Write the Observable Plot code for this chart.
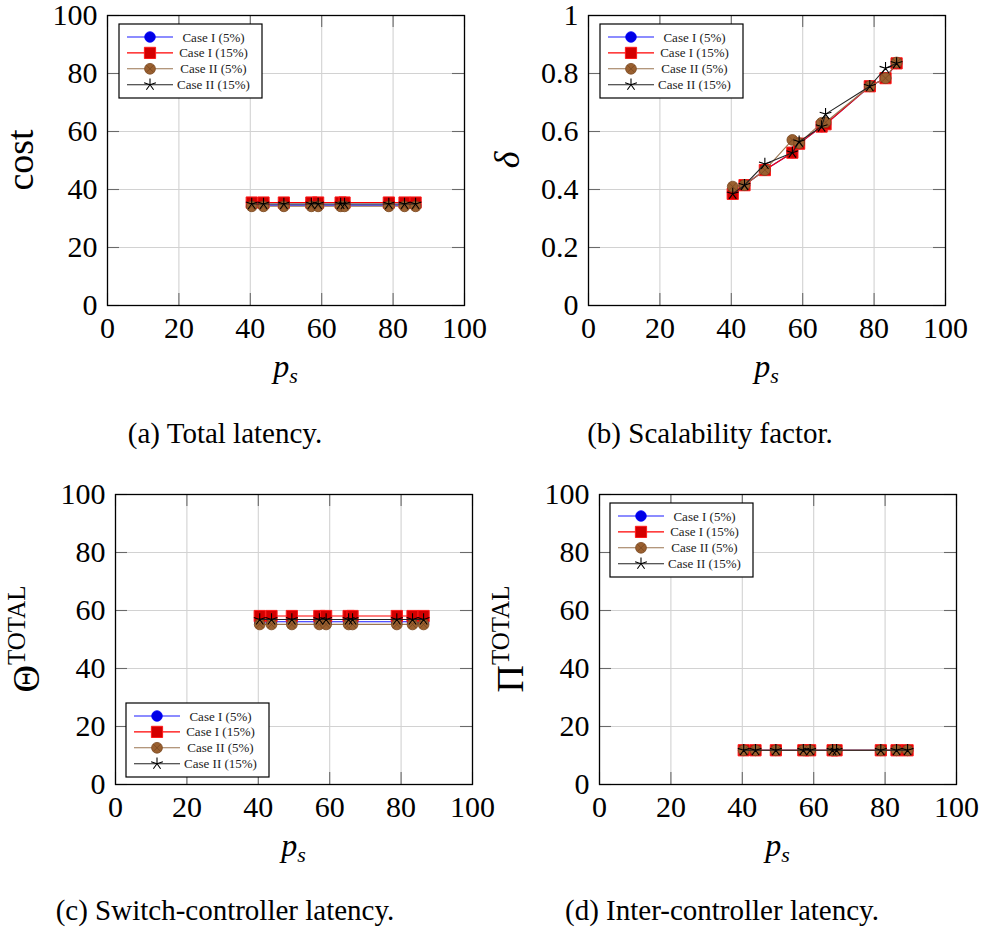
<!DOCTYPE html>
<html><head><meta charset="utf-8">
<script src="https://cdn.jsdelivr.net/npm/d3@7"></script>
<script src="https://cdn.jsdelivr.net/npm/@observablehq/plot@0.6"></script>
<style>
body{margin:0;background:#fff;}
#root{position:relative;width:982px;height:927px;overflow:hidden;background:#fff}
.panel{position:absolute}
.cap{position:absolute;font-family:'Liberation Serif',serif;font-size:29px;line-height:29px;white-space:nowrap;transform:translateX(-50%);color:#000;}
</style></head><body><div id="root"></div>
<script>
// ---------- data ----------
const ps = [40.4, 43.7, 49.4, 57.1, 59.0, 65.3, 66.4, 78.8, 83.2, 86.3];
const seriesNames = ["Case I (5%)", "Case I (15%)", "Case II (5%)", "Case II (15%)"];
const xTicks = [0, 20, 40, 60, 80, 100];
const yTicks100 = [0, 20, 40, 60, 80, 100];
const yTicksDelta = [0, 0.2, 0.4, 0.6, 0.8, 1];

// (a) total latency (cost)
const costCaseI5 = [34.6, 34.6, 34.6, 34.6, 34.6, 34.6, 34.6, 34.6, 34.6, 34.6];
const costCaseI15 = [35.5, 35.5, 35.5, 35.5, 35.5, 35.5, 35.5, 35.5, 35.5, 35.5];
const costCaseII5 = [34.2, 34.2, 34.2, 34.2, 34.2, 34.2, 34.2, 34.2, 34.2, 34.2];
const costCaseII15 = [35.0, 35.0, 35.0, 35.0, 35.0, 35.0, 35.0, 35.0, 35.0, 35.0];
// (b) scalability factor (delta)
const deltaCaseI5 = [0.385, 0.415, 0.467, 0.527, 0.558, 0.617, 0.625, 0.756, 0.784, 0.835];
const deltaCaseI15 = [0.385, 0.415, 0.467, 0.527, 0.558, 0.617, 0.625, 0.756, 0.784, 0.835];
const deltaCaseII5 = [0.41, 0.415, 0.467, 0.571, 0.56, 0.63, 0.632, 0.756, 0.784, 0.838];
const deltaCaseII15 = [0.385, 0.415, 0.488, 0.527, 0.565, 0.617, 0.66, 0.756, 0.818, 0.835];
// (c) switch-controller latency
const thetaCaseI5 = [56.1, 56.1, 56.1, 56.1, 56.1, 56.1, 56.1, 56.1, 56.1, 56.1];
const thetaCaseI15 = [58.1, 58.1, 58.1, 58.1, 58.1, 58.1, 58.1, 58.1, 58.1, 58.1];
const thetaCaseII5 = [55.2, 55.2, 55.2, 55.2, 55.2, 55.2, 55.2, 55.2, 55.2, 55.2];
const thetaCaseII15 = [56.9, 56.9, 56.9, 56.9, 56.9, 56.9, 56.9, 56.9, 56.9, 56.9];
// (d) inter-controller latency
const piCaseI5 = [11.8, 11.8, 11.8, 11.8, 11.8, 11.8, 11.8, 11.8, 11.8, 11.8];
const piCaseI15 = [11.8, 11.8, 11.8, 11.8, 11.8, 11.8, 11.8, 11.8, 11.8, 11.8];
const piCaseII5 = [11.8, 11.8, 11.8, 11.8, 11.8, 11.8, 11.8, 11.8, 11.8, 11.8];
const piCaseII15 = [11.8, 11.8, 11.8, 11.8, 11.8, 11.8, 11.8, 11.8, 11.8, 11.8];

const captions = ["(a) Total latency.", "(b) Scalability factor.", "(c) Switch-controller latency.", "(d) Inter-controller latency."];

// ---------- symbols ----------
const R = s => Math.sqrt(s / Math.PI);
const symCircle = {draw(c, s){const r = R(s); c.moveTo(r, 0); c.arc(0, 0, r, 0, 2 * Math.PI);}};
const symSquare = {draw(c, s){const r = R(s); c.rect(-r, -r, 2 * r, 2 * r);}};
const symOtimes = {draw(c, s){const r = R(s); c.moveTo(r, 0); c.arc(0, 0, r, 0, 2 * Math.PI);
  const k = r * Math.SQRT1_2; c.moveTo(-k, -k); c.lineTo(k, k); c.moveTo(-k, k); c.lineTo(k, -k);}};
const symStar = {draw(c, s){const r = R(s); for (let i = 0; i < 5; i++){const a = -Math.PI / 2 + i * 2 * Math.PI / 5; c.moveTo(0, 0); c.lineTo(r * Math.cos(a), r * Math.sin(a));}}};

const styles = [
  {line: "#1a1aff", sym: symCircle, r: 5.3, fill: "#0000e6", stroke: "#0000ff", sw: 0.8},
  {line: "#ff0000", sym: symSquare, r: 5.6, fill: "#d40000", stroke: "#ff1a1a", sw: 1},
  {line: "#9a7550", sym: symOtimes, r: 5.4, fill: "#9a6030", stroke: "#7a4820", sw: 0.8},
  {line: "#222222", sym: symStar, r: 6.2, fill: "none", stroke: "#000000", sw: 1.1}
];

const FONT = "Liberation Serif";
const root = document.getElementById("root");
const SVGNS = "http://www.w3.org/2000/svg";
function el(name, attrs, parent){const e = document.createElementNS(SVGNS, name); for (const k in attrs) e.setAttribute(k, attrs[k]); if (parent) parent.appendChild(e); return e;}

function panel({left, top, yDomain, yTicks, series, legend, yLabel, yLabelX}) {
  const mL = 107, mT = 35, fw = 357, fh = 290, mR = 25, mB = 100;
  const W = mL + fw + mR, H = mT + fh + mB;
  const marks = [
    Plot.gridX(xTicks, {stroke: "#d2d2d2", strokeOpacity: 1, strokeWidth: 1.1}),
    Plot.gridY(yTicks, {stroke: "#d2d2d2", strokeOpacity: 1, strokeWidth: 1.1}),
    Plot.tickX(xTicks, {x: d => d, stroke: "#6a6a6a", strokeWidth: 1.1, insetTop: fh - 12}),
    Plot.tickX(xTicks, {x: d => d, stroke: "#6a6a6a", strokeWidth: 1.1, insetBottom: fh - 12}),
    Plot.tickY(yTicks, {y: d => d, stroke: "#6a6a6a", strokeWidth: 1.1, insetRight: fw - 12}),
    Plot.tickY(yTicks, {y: d => d, stroke: "#6a6a6a", strokeWidth: 1.1, insetLeft: fw - 12})
  ];
  series.forEach((vals, i) => {
    const st = styles[i];
    const data = ps.map((x, j) => ({x, y: vals[j]}));
    marks.push(Plot.line(data, {x: "x", y: "y", stroke: st.line, strokeWidth: 1.1}));
    marks.push(Plot.dot(data, {x: "x", y: "y", symbol: st.sym, r: st.r, fill: st.fill, stroke: st.stroke, strokeWidth: st.sw}));
  });
  marks.push(Plot.frame({stroke: "#000", strokeWidth: 1.3}));
  marks.push(Plot.axisX(xTicks, {tickSize: 0, tickPadding: 11, label: null, fontSize: 30}));
  marks.push(Plot.axisY(yTicks, {tickSize: 0, tickPadding: 10, label: null, fontSize: 30, tickFormat: d => String(d)}));
  const svg = Plot.plot({
    width: W, height: H, marginLeft: mL, marginTop: mT, marginRight: mR, marginBottom: mB,
    x: {domain: [0, 100]}, y: {domain: yDomain},
    style: {fontFamily: FONT, fontSize: "30px", color: "#000", background: "transparent", overflow: "visible"},
    marks
  });
  svg.classList.add("panel");
  svg.style.left = left + "px"; svg.style.top = (top - 20) + "px";
  // y label
  const yl = el("text", {transform: `translate(${yLabelX},${mT + fh / 2}) rotate(-90)`, "text-anchor": "middle", "font-family": FONT, fill: "#000"}, svg);
  yLabel(yl);
  // x label p_s
  const xl = el("text", {x: mL + fw / 2, y: mT + fh + 72, "text-anchor": "middle", "font-family": FONT, fill: "#000", "font-size": 32}, svg);
  const t1 = el("tspan", {"font-style": "italic"}, xl); t1.textContent = "p";
  const t2 = el("tspan", {"font-style": "italic", "font-size": 22, dy: 6}, xl); t2.textContent = "s";
  // legend
  const g = el("g", {transform: `translate(${mL + legend.dx},${legend.dy + 20})`}, svg);
  el("rect", {x: 0, y: 0, width: 143, height: 74, fill: "#fff", stroke: "#000", "stroke-width": 1.2}, g);
  seriesNames.forEach((name, i) => {
    const st = styles[i];
    const yy = 13 + 15.9 * i;
    el("line", {x1: 8, x2: 54, y1: yy, y2: yy, stroke: st.line, "stroke-width": 1.1}, g);
    const p = d3.path(); st.sym.draw(p, st.r * st.r * Math.PI);
    el("path", {d: p.toString(), transform: `translate(31,${yy})`, fill: st.fill, stroke: st.stroke, "stroke-width": st.sw}, g);
    const tx = el("text", {x: 94.5, y: yy + 4.5, "text-anchor": "middle", "font-size": 13, "font-family": FONT, fill: "#222"}, g);
    tx.textContent = name;
  });
  root.appendChild(svg);
}

function simpleLabel(txt, italic, size){return t => {t.setAttribute("font-size", size); if (italic) t.setAttribute("font-style", "italic"); t.textContent = txt;};}
function supLabel(base){return t => {
  const a = el("tspan", {"font-size": 38}, t); a.textContent = base;
  const b = el("tspan", {"font-size": 25, dy: -14}, t); b.textContent = "TOTAL";
};}

panel({left: 0, top: 0, yDomain: [0, 100], yTicks: yTicks100,
  series: [costCaseI5, costCaseI15, costCaseII5, costCaseII15],
  legend: {dx: 12, dy: 24}, yLabel: simpleLabel("cost", false, 38), yLabelX: 33});
panel({left: 481, top: 0, yDomain: [0, 1], yTicks: yTicksDelta,
  series: [deltaCaseI5, deltaCaseI15, deltaCaseII5, deltaCaseII15],
  legend: {dx: 12, dy: 24}, yLabel: simpleLabel("δ", true, 36), yLabelX: 38});
panel({left: 8, top: 479, yDomain: [0, 100], yTicks: yTicks100,
  series: [thetaCaseI5, thetaCaseI15, thetaCaseII5, thetaCaseII15],
  legend: {dx: 11, dy: 224}, yLabel: supLabel("Θ"), yLabelX: 31});
panel({left: 492, top: 479, yDomain: [0, 100], yTicks: yTicks100,
  series: [piCaseI5, piCaseI15, piCaseII5, piCaseII15],
  legend: {dx: 11, dy: 24}, yLabel: supLabel("Π"), yLabelX: 31});

const capPos = [[225, 419], [710, 419], [225, 896], [722, 896]];
captions.forEach((c, i) => {
  const d = document.createElement("div"); d.className = "cap";
  d.style.left = capPos[i][0] + "px"; d.style.top = capPos[i][1] + "px";
  d.textContent = c; root.appendChild(d);
});
</script></body></html>
